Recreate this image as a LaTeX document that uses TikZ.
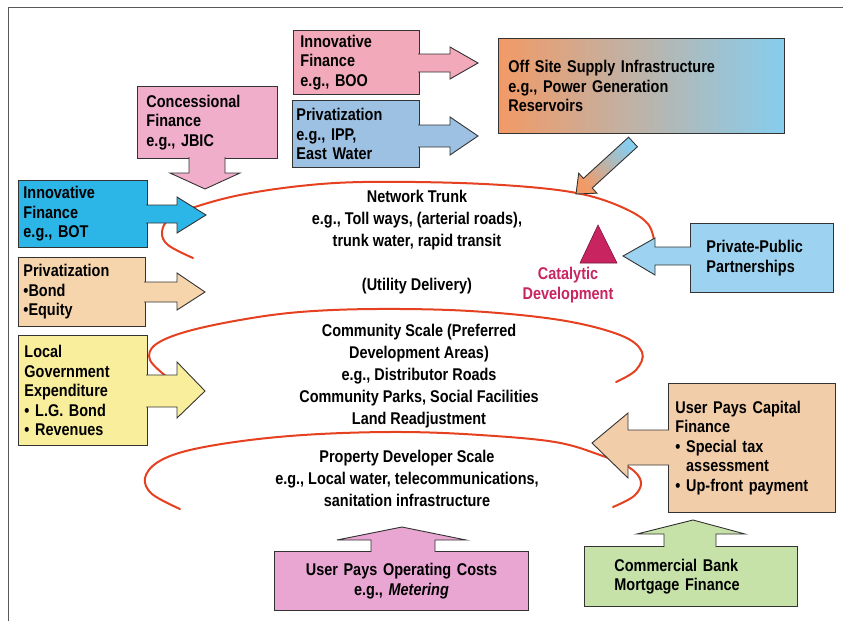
\documentclass[tikz,border=0pt]{standalone}
\usepackage{fontspec}
\setmainfont{Liberation Sans}[FakeStretch=0.85]
\usepackage{tikz}

\definecolor{boopink}{HTML}{F2A9B9}
\definecolor{concpink}{HTML}{F1AECB}
\definecolor{ippblue}{HTML}{9DC1E3}
\definecolor{botcyan}{HTML}{2CB5E7}
\definecolor{bondtan}{HTML}{F6D5AC}
\definecolor{lgyellow}{HTML}{F9EE9C}
\definecolor{pppblue}{HTML}{9DD3F0}
\definecolor{capitaltan}{HTML}{F2CDA9}
\definecolor{operpink}{HTML}{E9A6D3}
\definecolor{bankgreen}{HTML}{C6E2A9}
\definecolor{offorange}{HTML}{F29A66}
\definecolor{offblue}{HTML}{86CDEE}
\definecolor{ringred}{HTML}{E5401F}
\definecolor{catmag}{HTML}{C72460}

\newcommand{\calloutfont}{\fontsize{17}{19.5}\selectfont\bfseries}
\newcommand{\levelfont}{\fontsize{17}{22}\selectfont\bfseries}

\tikzset{
  box/.style={draw=black!80, line width=0.9pt, line join=miter},
  callout/.style={box, anchor=north west, align=left, inner ysep=0pt, font=\calloutfont},
  ring/.style={draw=ringred, line width=2pt, line cap=round},
  leveltext/.style={align=center, inner sep=0pt, font=\levelfont}
}

\begin{document}
\begin{tikzpicture}[x=1pt,y=-1pt]
  \useasboundingbox (0,0) rectangle (843,621);
  \draw[black!65, line width=1.3pt] (8.5,621) -- (8.5,7.5) -- (843,7.5);

  % the three levels
  \draw[ring] plot[smooth, tension=0.6] coordinates {(193,258) (168,245) (162,232) (170,218) (195,207) (240,195) (300,186) (363,182) (460,183) (540,188) (590,196) (628,210) (648,224) (654,240)};
  \draw[ring] plot[smooth, tension=0.6] coordinates {(167,377) (150,360) (155,345) (185,332) (240,320) (300,312) (376,309) (470,311) (560,320) (620,335) (642,352) (636,370) (616,382)};
  \draw[ring] plot[smooth, tension=0.6] coordinates {(180,509) (152,494) (145,478) (158,462) (190,450) (250,440) (320,434) (403,432) (480,435) (555,442) (600,455) (630,468) (641,482) (634,496) (613,507)};

  % top boxes
  \node[callout, fill=boopink, inner xsep=7pt, text width=112pt, minimum height=64pt] (boo) at (293,30) {Innovative\\Finance\\e.g., BOO};
  \draw[box, fill=boopink] (418,54) -- (450,54) -- (450,47) -- (478,63) -- (450,79) -- (450,72) -- (418,72);
  \node[callout, fill=ippblue, inner xsep=4pt, text width=119pt, minimum height=67pt] (ipp) at (292,100) {Privatization\\e.g., IPP,\\East Water};
  \draw[box, fill=ippblue] (418,125) -- (450,125) -- (450,117) -- (478,136) -- (450,155) -- (450,147) -- (418,147);
  \node[callout, left color=offorange, right color=offblue, inner xsep=10pt, text width=266pt, minimum height=95pt] (offsite) at (498,38) {Off Site Supply Infrastructure\\e.g., Power Generation\\Reservoirs};
  \draw[box, top color=offblue, bottom color=offorange, shading angle=-48] (576,194) -- (596.9,193.2) -- (592.2,188.0) -- (637.4,146.8) -- (628.6,137.2) -- (583.4,178.4) -- (578.7,173.2) -- cycle;
  \node[callout, fill=concpink, inner xsep=9pt, text width=122pt, minimum height=72pt] (conc) at (137,86) {Concessional\\Finance\\e.g., JBIC};
  \draw[box, fill=concpink] (189,157) -- (189,173) -- (170,173) -- (205,189) -- (240,173) -- (225,173) -- (225,157);

  % left boxes
  \node[callout, fill=botcyan, inner xsep=5pt, text width=119pt, minimum height=67pt] (bot) at (18,180) {Innovative\\Finance\\e.g., BOT};
  \draw[box, fill=botcyan] (146,205) -- (177,205) -- (177,197) -- (206,215) -- (177,233) -- (177,223) -- (146,223);
  \node[callout, fill=bondtan, inner xsep=5pt, text width=117pt, minimum height=69pt] (bond) at (18,257) {Privatization\\\textbullet Bond\\\textbullet Equity};
  \draw[box, fill=bondtan] (144,282) -- (177,282) -- (177,273) -- (205,292) -- (177,310) -- (177,302) -- (144,302);
  \node[callout, fill=lgyellow, inner xsep=6pt, text width=117pt, minimum height=110pt] (lg) at (18,335) {Local\\Government\\Expenditure\\\textbullet\ L.G. Bond\\\textbullet\ Revenues};
  \draw[box, fill=lgyellow] (146,375) -- (177,375) -- (177,362) -- (205,391) -- (177,418) -- (177,407) -- (146,407);

  % right boxes
  \node[callout, fill=pppblue, inner xsep=16pt, text width=111pt, minimum height=69pt] (ppp) at (690,223) {Private-Public\\Partnerships};
  \draw[box, fill=pppblue] (691,247) -- (655,247) -- (655,238) -- (623,256) -- (655,275) -- (655,265) -- (691,265);
  \node[callout, fill=capitaltan, inner xsep=7pt, text width=153pt, minimum height=129pt] (capital) at (668,383) {User Pays Capital\\Finance\\\textbullet\ Special tax\\\phantom{\textbullet\ }assessment\\\textbullet\ Up-front payment};
  \draw[box, fill=capitaltan] (669,430) -- (628,430) -- (628,413) -- (592,443) -- (628,478) -- (628,465) -- (669,465);

  % bottom boxes
  \node[callout, fill=operpink, align=center, inner xsep=7pt, text width=240pt, minimum height=59pt] (oper) at (274,551) {User Pays Operating Costs\\e.g., \textit{Metering}};
  \draw[box, fill=operpink] (371,552) -- (371,540) -- (337,540) -- (402,527) -- (466,540) -- (435,540) -- (435,552);
  \node[callout, fill=bankgreen, inner xsep=30pt, text width=153pt, minimum height=60pt] (bank) at (584,546) {Commercial Bank\\Mortgage Finance};
  \draw[box, fill=bankgreen] (664,547) -- (664,534) -- (637,534) -- (693,520) -- (745,534) -- (716,534) -- (716,547);

  % catalytic development
  \draw[fill=catmag, draw=catmag!60!black, line width=0.6pt] (598,225) -- (617,263) -- (580,263) -- cycle;
  \node[leveltext, font=\calloutfont, text=catmag] (catalytic) at (568,285) {Catalytic\\Development};

  % level texts
  \node[leveltext] (trunk) at (417,220) {Network Trunk\\e.g., Toll ways, (arterial roads),\\trunk water, rapid transit};
  \node[leveltext] (utility) at (417,286) {(Utility Delivery)};
  \node[leveltext] (community) at (419,376) {Community Scale (Preferred\\Development Areas)\\e.g., Distributor Roads\\Community Parks, Social Facilities\\Land Readjustment};
  \node[leveltext] (property) at (407,478) {Property Developer Scale\\e.g., Local water, telecommunications,\\sanitation infrastructure};
\end{tikzpicture}
\end{document}
